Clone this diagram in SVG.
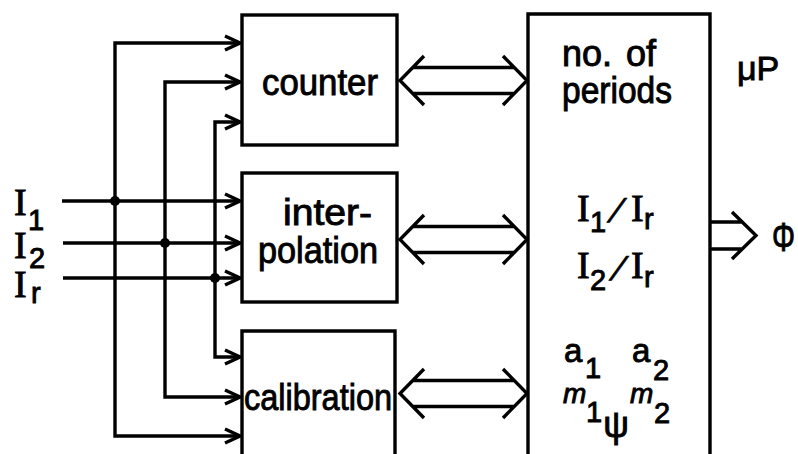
<svg xmlns="http://www.w3.org/2000/svg" width="798" height="454" viewBox="0 0 798 454">
  <defs>
    <style>
      .ln{fill:none;stroke:#000;stroke-width:3.4;stroke-linejoin:miter}
      .box{fill:none;stroke:#000;stroke-width:3.4}
      .dot{fill:#000}
      text{fill:#000;stroke:#000;stroke-width:0.9}
      .word{font-family:"Liberation Sans",Arial,sans-serif;font-size:36px}
      .cap{font-family:"Liberation Serif","Times New Roman",serif;font-size:38px}
      .sub{font-family:"Liberation Sans",Arial,sans-serif;font-size:29px}
      .sym{font-family:"Liberation Sans",Arial,sans-serif}
    </style>
    <marker id="head" markerUnits="userSpaceOnUse" viewBox="-18 -10 20 20" markerWidth="20" markerHeight="20" refX="0" refY="0" orient="auto-start-reverse">
      <path d="M-15,-7 L0,0 L-15,7" fill="none" stroke="#000" stroke-width="3.4"/>
    </marker>
  </defs>
  <rect width="798" height="454" fill="#fff"/>

  <!-- input labels -->
  <g id="inputs">
    <text class="cap" x="14" y="215">I</text><text class="sub" x="28" y="230">1</text>
    <text class="cap" x="14" y="258">I</text><text class="sub" x="29" y="268">2</text>
    <text class="cap" x="14" y="297">I</text><text class="sub" x="31" y="303" font-size="32">r</text>
  </g>

  <g id="counter">
    <rect class="box" x="242" y="15" width="155" height="130"/>
    <text class="word" x="262" y="95" textLength="116" lengthAdjust="spacingAndGlyphs">counter</text>
  </g>

  <g id="interpolation">
    <rect class="box" x="242" y="173" width="155" height="129"/>
    <text class="word" x="283" y="225" textLength="89" lengthAdjust="spacingAndGlyphs">inter-</text>
    <text class="word" x="258" y="263" textLength="120" lengthAdjust="spacingAndGlyphs">polation</text>
  </g>

  <g id="calibration">
    <path class="box" d="M242,470 V331 H395 V470"/>
    <text class="word" x="244" y="410" textLength="148" lengthAdjust="spacingAndGlyphs">calibration</text>
  </g>

  <g id="processor">
    <path class="box" d="M528,470 V14 H710 V470"/>
    <text class="word" y="66"><tspan x="562">no.</tspan><tspan x="626">of</tspan></text>
    <text class="word" x="562" y="103" textLength="110" lengthAdjust="spacingAndGlyphs">periods</text>
    <!-- I1/Ir -->
    <text class="cap" x="577" y="221">I</text>
    <text class="sub" x="590" y="232">1</text>
    <text class="sym" font-size="33" transform="translate(607,222) skewX(-24)">/</text>
    <text class="cap" x="631" y="221">I</text>
    <text class="sub" x="644" y="229" font-size="32">r</text>
    <!-- I2/Ir -->
    <text class="cap" x="577" y="278">I</text>
    <text class="sub" x="590" y="290">2</text>
    <text class="sym" font-size="33" transform="translate(609,280) skewX(-24)">/</text>
    <text class="cap" x="631" y="278">I</text>
    <text class="sub" x="644" y="287" font-size="32">r</text>
    <!-- coefficients -->
    <text class="sym" x="564" y="362" font-size="33">a</text>
    <text class="sub" x="585" y="378" font-size="28">1</text>
    <text class="sym" x="632" y="362" font-size="33">a</text>
    <text class="sub" x="653" y="380" font-size="28">2</text>
    <text class="sym" x="563" y="403" font-size="28" font-style="italic">m</text>
    <text class="sub" x="586" y="422" font-size="28">1</text>
    <text class="sym" x="630" y="403" font-size="28" font-style="italic">m</text>
    <text class="sub" x="654" y="423" font-size="28">2</text>
    <text class="sym" x="616" y="437" font-size="36" text-anchor="middle">ψ</text>
  </g>

  <g id="mu-p">
    <text class="sym" x="737" y="80" font-size="34">μP</text>
  </g>

  <g id="output">
    <text class="sym" font-size="40" transform="translate(772,251) scale(0.72,1)">Φ</text>
  </g>

  <g id="connectors">
    <!-- distribution of the three inputs to the blocks -->
    <path class="ln" d="M240,43 H115 V436 H240" marker-start="url(#head)" marker-end="url(#head)"/>
    <path class="ln" d="M240,82 H165 V397 H240" marker-start="url(#head)" marker-end="url(#head)"/>
    <path class="ln" d="M240,122 H215 V357 H240" marker-start="url(#head)" marker-end="url(#head)"/>
    <path class="ln" d="M62,201 H240" marker-end="url(#head)"/>
    <path class="ln" d="M63,243 H240" marker-end="url(#head)"/>
    <path class="ln" d="M63,278 H240" marker-end="url(#head)"/>
    <circle class="dot" cx="115" cy="201" r="5"/>
    <circle class="dot" cx="165" cy="243" r="5"/>
    <circle class="dot" cx="215" cy="278" r="5"/>

    <!-- bidirectional buses to the processor -->
    <g class="ln">
      <path d="M424,56 L400,80.5 L424,105 M503,56 L527,80.5 L503,105 M413,67.5 H514 M413,93.5 H514"/>
      <path d="M424,215 L400,239.5 L424,264 M503,215 L527,239.5 L503,264 M413,226.5 H514 M413,252.5 H514"/>
      <path d="M424,369 L400,393.5 L424,418 M503,369 L527,393.5 L503,418 M413,380.5 H514 M413,406.5 H514"/>
      <!-- output bus -->
      <path d="M710,222 H742 M710,249 H742 M732,212 L756,235.5 L732,259"/>
    </g>
  </g>
</svg>
